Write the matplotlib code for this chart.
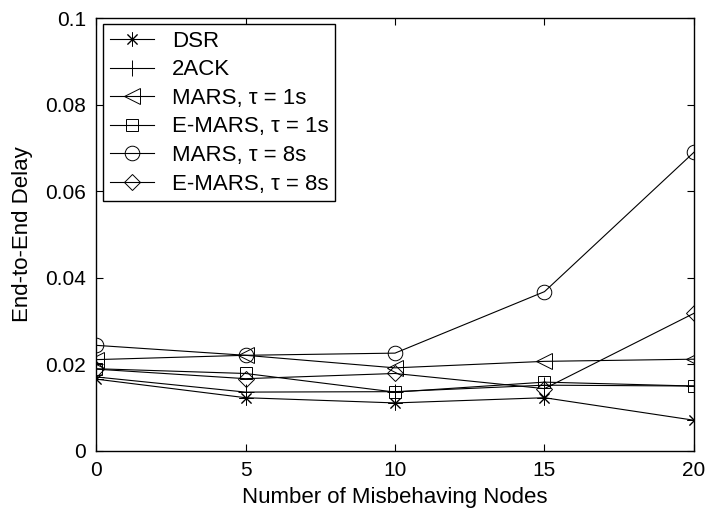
import matplotlib
matplotlib.use("Agg")
import matplotlib.pyplot as plt

# misbehaving nodes vs end-to-end delay (s)
nodes = [0, 5, 10, 15, 20]
dsr = [0.0166, 0.0123, 0.0111, 0.0123, 0.0071]
ack2 = [0.0171, 0.0136, 0.0137, 0.0152, 0.0150]
mars_1s = [0.0211, 0.0221, 0.0192, 0.0207, 0.0212]
emars_1s = [0.0190, 0.0179, 0.0136, 0.0159, 0.0150]
mars_8s = [0.0244, 0.0221, 0.0226, 0.0368, 0.0690]
emars_8s = [0.0189, 0.0167, 0.0179, 0.0144, 0.0318]

series = [
    (dsr, "DSR", (8, 2, 0), 10),
    (ack2, "2ACK", "+", 11),
    (mars_1s, "MARS, \u03c4 = 1s", "<", 11),
    (emars_1s, "E-MARS, \u03c4 = 1s", "s", 8.5),
    (mars_8s, "MARS, \u03c4 = 8s", "o", 10.5),
    (emars_8s, "E-MARS, \u03c4 = 8s", "D", 8),
]

plt.rcParams["font.family"] = ["Liberation Sans", "DejaVu Sans"]
plt.rcParams["font.size"] = 15

fig = plt.figure(figsize=(7.07, 5.13), dpi=100)
ax = fig.add_axes([0.1358, 0.1209, 0.8458, 0.844])

for ys, label, marker, ms in series:
    ax.plot(nodes, ys, color="black", linewidth=0.8, marker=marker, markersize=ms,
            markerfacecolor="none", markeredgecolor="black", markeredgewidth=0.7,
            label=label)

ax.set_xlim(0, 20)
ax.set_ylim(0, 0.1)
ax.set_xticks([0, 5, 10, 15, 20])
ax.set_yticks([0, 0.02, 0.04, 0.06, 0.08, 0.1])
ax.set_yticklabels(["0", "0.02", "0.04", "0.06", "0.08", "0.1"])
ax.tick_params(direction="in", top=True, right=True, length=5, width=0.8, pad=7)
for sp in ax.spines.values():
    sp.set_linewidth(1.0)

ax.set_xlabel("Number of Misbehaving Nodes", fontsize=16, labelpad=5)
ax.set_ylabel("End-to-End Delay", fontsize=16, labelpad=9)

leg = ax.legend(loc="upper left", bbox_to_anchor=(0.0117, 0.986), borderaxespad=0,
                fancybox=False, framealpha=1, edgecolor="black", handlelength=2.0,
                handletextpad=0.8, labelspacing=0.34, borderpad=0.3, fontsize=16)
leg.get_frame().set_linewidth(1.0)

fig.savefig("out.png", dpi=100)
